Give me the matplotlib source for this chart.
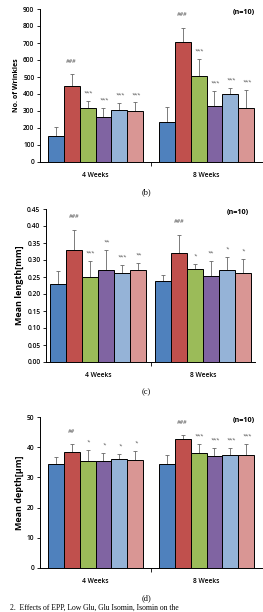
import matplotlib
matplotlib.use("Agg")
import matplotlib.pyplot as plt
import numpy as np

# Excel-like group colours: Normal, Control, EPP, Low, Glu, Isomin
colors = ['#4f81bd', '#c0504d', '#9bbb59', '#8064a2', '#95b3d7', '#d99694']
weeks = ['4 Weeks', '8 Weeks']

wr_4 = [150, 445, 320, 265, 308, 302]
wr_4_err = [55, 70, 40, 55, 38, 48]
wr_8 = [235, 708, 505, 332, 398, 318]
wr_8_err = [90, 80, 100, 88, 38, 105]
wr_sig_4 = ['', '###', '***', '***', '***', '***']
wr_sig_8 = ['', '###', '***', '***', '***', '***']

len_4 = [0.230, 0.328, 0.250, 0.272, 0.261, 0.272]
len_4_err = [0.037, 0.060, 0.047, 0.057, 0.024, 0.020]
len_8 = [0.238, 0.320, 0.275, 0.252, 0.272, 0.263]
len_8_err = [0.017, 0.055, 0.013, 0.045, 0.037, 0.040]
len_sig_4 = ['', '###', '***', '**', '***', '**']
len_sig_8 = ['', '###', '*', '**', '*', '*']

dep_4 = [34.3, 38.5, 35.5, 35.5, 36.2, 35.7]
dep_4_err = [2.5, 2.5, 3.5, 2.5, 1.7, 3.0]
dep_8 = [34.3, 42.8, 38.1, 37.0, 37.3, 37.5]
dep_8_err = [3.0, 1.2, 3.0, 2.7, 2.5, 3.5]
dep_sig_4 = ['', '##', '*', '*', '*', '*']
dep_sig_8 = ['', '###', '***', '***', '***', '***']

W, H = 263, 612
fig = plt.figure(figsize=(W/100, H/100), dpi=100)
fig.patch.set_facecolor('white')
sans = 'Open Sans'

def panel(rect, vals, errs, sigs, ylim, yticks, fmt, ylabel, ylab_size, tag, tag_y, bw):
    ax = fig.add_axes(rect)
    for g in range(2):
        for i in range(6):
            x = g + (i - 2.5) * bw
            v, e = vals[g][i], errs[g][i]
            ax.bar(x, v, bw, color=colors[i], edgecolor='black', linewidth=0.7, zorder=2)
            ax.errorbar(x, v, yerr=[[0], [e]], color='#666666', elinewidth=0.6,
                        capsize=1.6, capthick=0.6, zorder=1)
            if sigs[g][i]:
                off = 0.07 if sigs[g][i].startswith('#') else 0.035
                ax.text(x, v + e + ylim * off, sigs[g][i], ha='center', va='bottom',
                        fontsize=4, style='italic', color='#444444', family=sans)
    ax.set_xlim(-0.5, 1.5)
    ax.set_ylim(0, ylim)
    ax.set_yticks(yticks)
    ax.set_yticklabels([fmt % t for t in yticks], fontsize=4.8, family=sans,
                       fontweight='semibold')
    ax.set_xticks([0, 1])
    ax.set_xticklabels(weeks, fontsize=4.8, family=sans, fontweight='semibold')
    ax.set_xticks([0.5], minor=True)
    ax.tick_params(axis='x', which='major', length=0, pad=7)
    ax.tick_params(axis='x', which='minor', length=3, width=0.6)
    ax.tick_params(axis='y', length=2, width=0.6, pad=2)
    for s in ['top', 'right']:
        ax.spines[s].set_visible(False)
    for s in ['left', 'bottom']:
        ax.spines[s].set_linewidth(0.7)
    ax.set_ylabel(ylabel, fontsize=ylab_size, fontweight='bold', family=sans, labelpad=2)
    ax.text(0.97, 1.0, '(n=10)', transform=ax.transAxes, ha='right', va='top',
            fontsize=5.2, fontweight='bold', family=sans)
    fig.text(146/W, 1 - tag_y/H, tag, ha='center', va='center', fontsize=6,
             family='Liberation Serif')
    return ax

panel([40/W, 1 - 162/H, 222/W, 153/H], [wr_4, wr_8], [wr_4_err, wr_8_err],
      [wr_sig_4, wr_sig_8], 900, np.arange(0, 901, 100), '%d',
      'No. of Wrinkles', 5, '(b)', 192, 0.144)

panel([46/W, 1 - 362/H, 209/W, 153/H], [len_4, len_8], [len_4_err, len_8_err],
      [len_sig_4, len_sig_8], 0.45, np.round(np.arange(0, 0.451, 0.05), 2), '%.2f',
      'Mean length[mm]', 6.5, '(c)', 392, 0.153)

panel([40/W, 1 - 568/H, 222/W, 151/H], [dep_4, dep_8], [dep_4_err, dep_8_err],
      [dep_sig_4, dep_sig_8], 50, np.arange(0, 51, 10), '%d',
      'Mean depth[\u03bcm]', 6.5, '(d)', 598, 0.144)

# caption line at the page bottom
fig.text(10/W, 1 - 611.5/H, '2.  Effects of EPP, Low Glu, Glu Isomin, Isomin on the',
         ha='left', va='bottom', fontsize=5.5, family='Liberation Serif')

fig.savefig('out.png', dpi=100)
